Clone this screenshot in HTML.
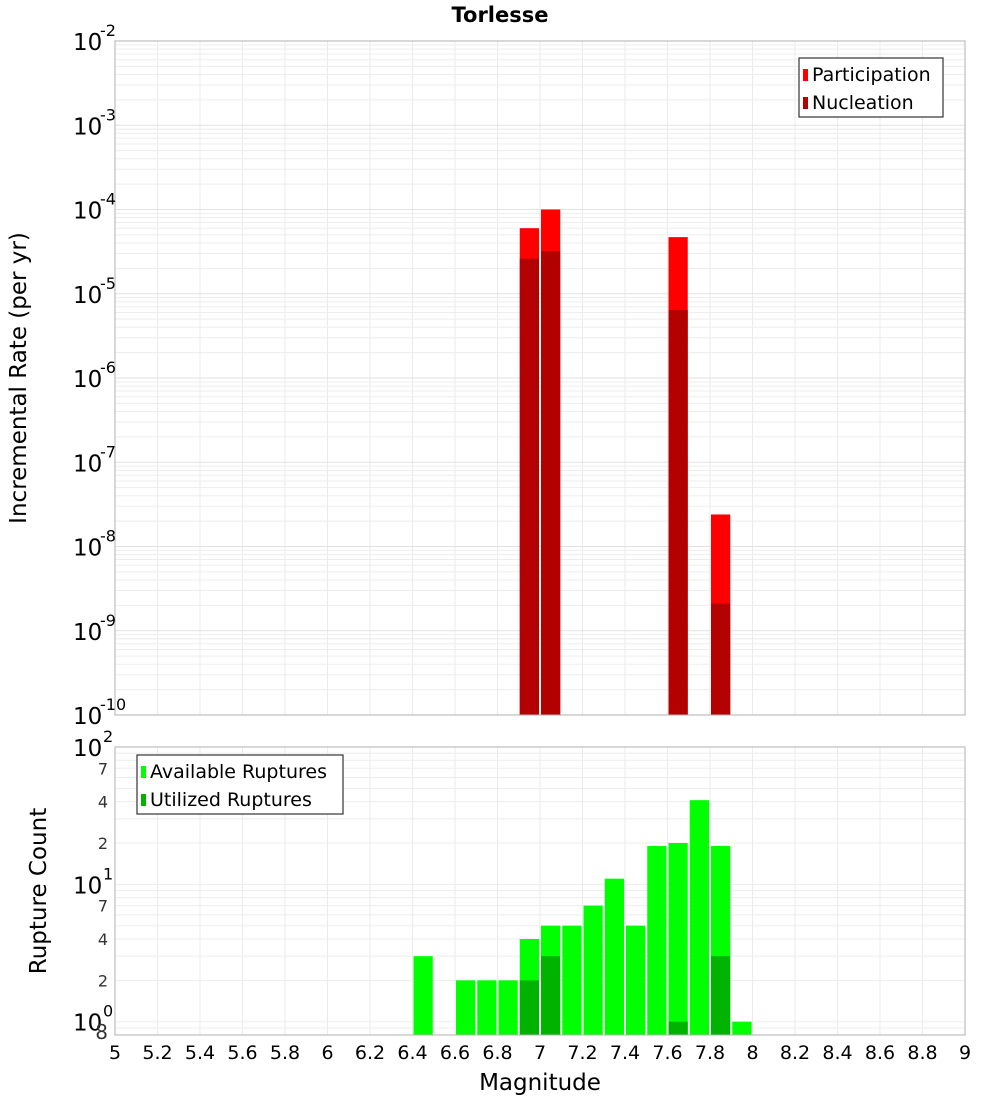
<!DOCTYPE html>
<html><head><meta charset="utf-8"><style>
body{margin:0;background:#fff}
svg{display:block;font-family:"DejaVu Sans","Liberation Sans",sans-serif}
</style></head><body>
<svg id="c" width="1000" height="1100"></svg>
<script>
const mags=[6.95,7.05,7.65,7.85];
const participation=[6.0e-5,1.0e-4,4.7e-5,2.4e-8];
const nucleation=[2.6e-5,3.2e-5,6.4e-6,2.1e-9];
const countMags=[6.45,6.65,6.75,6.85,6.95,7.05,7.15,7.25,7.35,7.45,7.55,7.65,7.75,7.85,7.95];
const available=[3,2,2,2,4,5,5,7,11,5,19,20,41,19,1];
const utilMags=[6.95,7.05,7.65,7.85];
const utilized=[2,3,1,3];
const xTicks=[5,5.2,5.4,5.6,5.8,6,6.2,6.4,6.6,6.8,7,7.2,7.4,7.6,7.8,8,8.2,8.4,8.6,8.8,9];
const topExps=[-2,-3,-4,-5,-6,-7,-8,-9,-10];

const svg=document.getElementById('c');const NS='http://www.w3.org/2000/svg';
function mk(t,a,p){const e=document.createElementNS(NS,t);for(const k in a)e.setAttribute(k,a[k]);(p||svg).appendChild(e);return e;}
const L=115,R=965;
const X=m=>L+(m-5)/4*(R-L);
const T0=41,T1=715;
const YT=v=>T0+(-2-Math.log10(v))/8*(T1-T0);
const B0=747,B1=1035;
const YB=v=>B0+(2-Math.log10(v))/Math.log10(100/0.8)*(B1-B0);
const bw=X(5.1)-X(5)-2;

const g=mk('g',{});
xTicks.forEach(m=>{
  const x=X(m);
  mk('line',{x1:x,x2:x,y1:T0,y2:T1,stroke:'#ebebeb','stroke-width':1},g);
  mk('line',{x1:x,x2:x,y1:B0,y2:B1,stroke:'#ebebeb','stroke-width':1},g);
});
for(let e=-10;e<-2;e++)for(let k=1;k<10;k++){const y=YT(k*Math.pow(10,e));mk('line',{x1:L,x2:R,y1:y,y2:y,stroke:k==1?'#e2e2e2':'#ededed','stroke-width':1},g);}
for(let e=-1;e<2;e++)for(let k=1;k<10;k++){const v=k*Math.pow(10,e);if(v<0.8)continue;const y=YB(v);mk('line',{x1:L,x2:R,y1:y,y2:y,stroke:'#ededed','stroke-width':1},g);}

mags.forEach((m,i)=>{
  const r=mk('rect',{x:X(m-0.05)+1,y:YT(participation[i]),width:bw,height:T1-YT(participation[i]),fill:'#ff0000'});
  
  const n=mk('rect',{x:X(m-0.05)+1,y:YT(nucleation[i]),width:bw,height:T1-YT(nucleation[i]),fill:'#b30000'});
  
});
countMags.forEach((m,i)=>{
  const r=mk('rect',{x:X(m-0.05)+1,y:YB(available[i]),width:bw,height:B1-YB(available[i]),fill:'#00ff00'});
  
});
utilMags.forEach((m,i)=>{
  const r=mk('rect',{x:X(m-0.05)+1,y:YB(utilized[i]),width:bw,height:B1-YB(utilized[i]),fill:'#00b300'});
  
});
mk('rect',{x:L,y:T0,width:R-L,height:T1-T0,fill:'none',stroke:'#b0b0b0'});
mk('rect',{x:L,y:B0,width:R-L,height:B1-B0,fill:'none',stroke:'#b0b0b0'});

topExps.forEach(e=>{
  const y=YT(Math.pow(10,e));
  const t=mk('text',{x:73,y:y+9,'font-size':23,fill:'#000'});t.textContent='10';
  
  const s=mk('text',{x:100,y:y-5,'font-size':16,fill:'#000'});s.textContent=String(e);
});
[[100,'2'],[10,'1'],[1,'0']].forEach(([v,e])=>{
  const y=YB(v);
  const t=mk('text',{x:73,y:y+9,'font-size':23,fill:'#000'});t.textContent='10';
  
  const s=mk('text',{x:103,y:y-5,'font-size':16,fill:'#000'});s.textContent=e;
});
[70,40,20,7,4,2,0.8].forEach(v=>{
  const y=YB(v);
  const lab=v==0.8?'8':String(v).charAt(0);
  const t=mk('text',{x:108,y:y+(v==0.8?4:6),'font-size':v==0.8?20:16,fill:'#333','text-anchor':'end'});t.textContent=lab;
  
});
xTicks.forEach(m=>{
  const t=mk('text',{x:X(m),y:1059,'font-size':19,'text-anchor':'middle',fill:'#000'});t.textContent=String(m);
  
});
function txt(s,a,name){const t=mk('text',a);t.textContent=s;return t;}
txt('Torlesse',{x:500,y:22,'font-size':21,'font-weight':'bold','text-anchor':'middle'},'chart-title');
txt('Magnitude',{x:540,y:1090,'font-size':23,'text-anchor':'middle'},'x-axis-title');
txt('Incremental Rate (per yr)',{x:0,y:0,'font-size':23,'text-anchor':'middle',transform:'translate(26,378) rotate(-90)'},'y-axis-title');
txt('Rupture Count',{x:0,y:0,'font-size':23,'text-anchor':'middle',transform:'translate(46,891) rotate(-90)'},'count-axis-title');

function legend(x,y,w,items,name){
  const gg=mk('g',{});
  mk('rect',{x:x,y:y,width:w,height:59,fill:'#fff',stroke:'#333','stroke-width':1.2},gg);
  items.forEach(([c,s],i)=>{
    mk('rect',{x:x+4,y:y+11+i*28,width:5,height:12,fill:c},gg);
    const t=mk('text',{x:x+13,y:y+23+i*28,'font-size':19},gg);t.textContent=s;
  });
}
legend(799,58,144,[['#ff0000','Participation'],['#b30000','Nucleation']],'rate-legend');
legend(137,755,206,[['#00ff00','Available Ruptures'],['#00b300','Utilized Ruptures']],'count-legend');
</script>
</body></html>
